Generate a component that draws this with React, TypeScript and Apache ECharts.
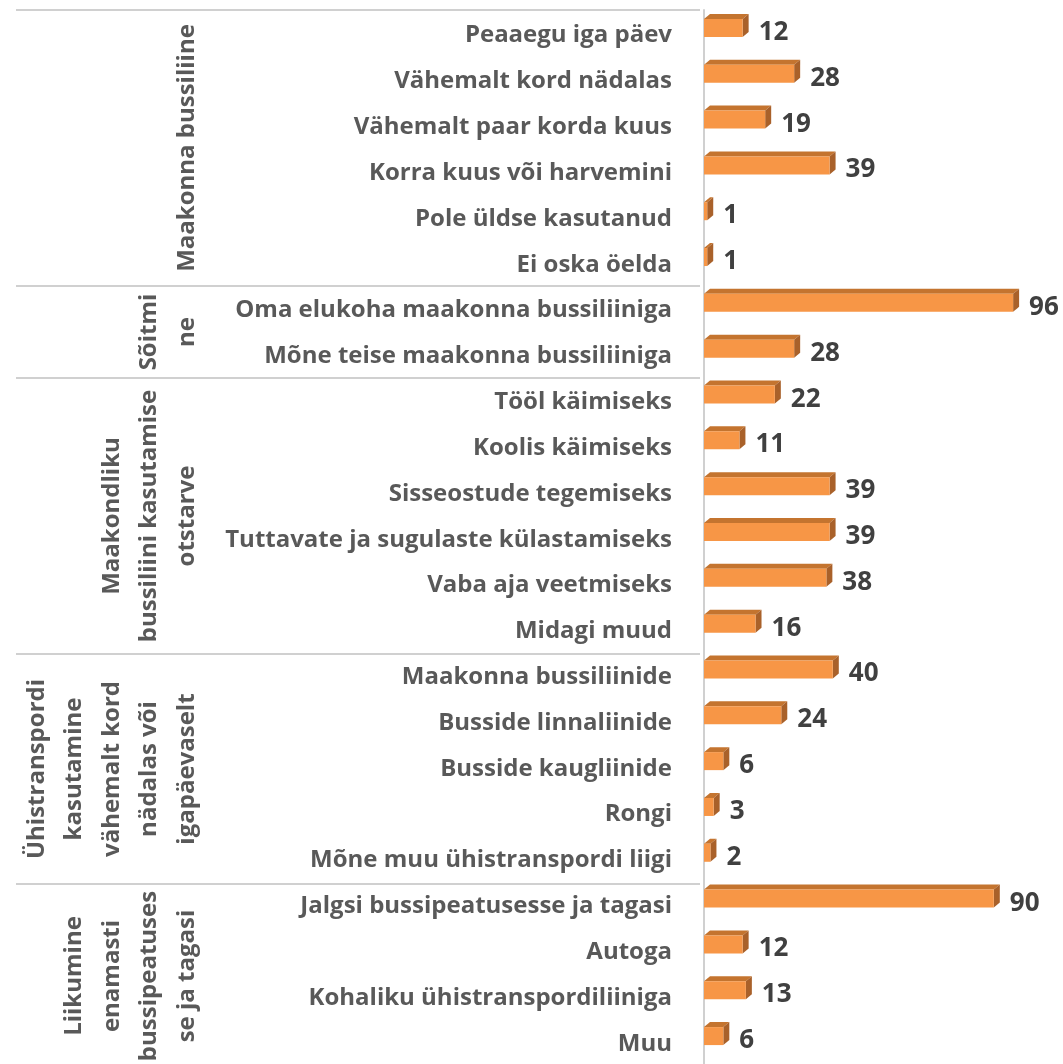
import React, { useEffect, useRef } from "react";
import * as echarts from "echarts";

const categories = [
  "Peaaegu iga päev",
  "Vähemalt kord nädalas",
  "Vähemalt paar korda kuus",
  "Korra kuus või harvemini",
  "Pole üldse kasutanud",
  "Ei oska öelda",
  "Oma elukoha maakonna bussiliiniga",
  "Mõne teise maakonna bussiliiniga",
  "Tööl käimiseks",
  "Koolis käimiseks",
  "Sisseostude tegemiseks",
  "Tuttavate ja sugulaste külastamiseks",
  "Vaba aja veetmiseks",
  "Midagi muud",
  "Maakonna bussiliinide",
  "Busside linnaliinide",
  "Busside kaugliinide",
  "Rongi",
  "Mõne muu ühistranspordi liigi",
  "Jalgsi bussipeatusesse ja tagasi",
  "Autoga",
  "Kohaliku ühistranspordiliiniga",
  "Muu",
];

const values = [12, 28, 19, 39, 1, 1, 96, 28, 22, 11, 39, 39, 38, 16, 40, 24, 6, 3, 2, 90, 12, 13, 6];

const groupLabels = [
  ["Maakonna bussiliine"],
  ["Sõitmi", "ne"],
  ["Maakondliku", "bussiliini kasutamise", "otstarve"],
  ["Ühistranspordi", "kasutamine", "vähemalt kord", "nädalas või", "igapäevaselt"],
  ["Liikumine", "enamasti", "bussipeatuses", "se ja tagasi"],
];
const groupSizes = [6, 2, 6, 5, 4];

const FONT = "'Open Sans', 'Noto Sans', sans-serif";

export default function App() {
  const ref = useRef<HTMLDivElement>(null);
  useEffect(() => {
    if (!ref.current) return;
    const chart = echarts.init(ref.current, null, { renderer: "svg" });

    const gridTop = 10;
    const gridHeight = 1058;
    const gridLeft = 704;
    const axisX = 700;
    const row = gridHeight / categories.length;

    const graphics: any[] = [];
    let start = 0;
    const bounds: number[] = [0];
    groupSizes.forEach((n) => {
      start += n;
      bounds.push(start);
    });
    bounds.slice(0, -1).forEach((b) => {
      const y = Math.round(gridTop + b * row);
      graphics.push({
        type: "line",
        shape: { x1: 16, y1: y, x2: axisX, y2: y },
        style: { stroke: "#d0d0d0", lineWidth: 2 },
        silent: true,
      });
    });
    groupLabels.forEach((lines, gi) => {
      const s = bounds[gi];
      const e = bounds[gi + 1];
      const cy = gridTop + ((s + e) / 2) * row;
      graphics.push({
        type: "text",
        x: 203,
        y: cy,
        rotation: Math.PI / 2,
        style: {
          text: lines.join("\n"),
          align: "center",
          verticalAlign: "bottom",
          lineHeight: 37.5,
          fill: "#595959",
          fontSize: 24,
          fontWeight: "bold",
          fontFamily: FONT,
        },
        silent: true,
      });
    });

    const dx = 6;
    const dy = 5;

    chart.setOption({
      animation: false,
      grid: { left: gridLeft, top: gridTop, width: 322, height: gridHeight },
      xAxis: { type: "value", min: 0, max: 100, show: false },
      yAxis: {
        type: "category",
        data: categories,
        inverse: true,
        offset: gridLeft - axisX,
        axisLine: { show: true, lineStyle: { color: "#d0d0d0", width: 2 } },
        axisTick: { show: false },
        axisLabel: {
          margin: 28,
          fontSize: 24,
          fontWeight: "bold",
          color: "#595959",
          fontFamily: FONT,
        },
      },
      graphic: graphics,
      series: [
        {
          type: "custom",
          clip: false,
          data: values.map((v, i) => [v, i]),
          encode: { x: 0, y: 1 },
          renderItem: (params: any, api: any) => {
            const v = api.value(0);
            const idx = api.value(1);
            const p1 = api.coord([v, idx]);
            const p0 = api.coord([0, idx]);
            const x0 = p0[0];
            const x1 = p1[0];
            const c = p1[1];
            const top = c - 14;
            const bot = c + 4;
            return {
              type: "group",
              children: [
                {
                  type: "polygon",
                  shape: { points: [[x0, top], [x0 + dx, top - dy], [x1 + dx, top - dy], [x1, top]] },
                  style: { fill: "#c4742f" },
                },
                {
                  type: "polygon",
                  shape: { points: [[x1, top], [x1 + dx, top - dy], [x1 + dx, bot - dy], [x1, bot]] },
                  style: { fill: "#a9612a" },
                },
                {
                  type: "rect",
                  shape: { x: x0, y: top, width: x1 - x0, height: bot - top },
                  style: { fill: "#f79646" },
                },
                {
                  type: "text",
                  style: {
                    text: String(v),
                    x: x1 + dx + 10,
                    y: c - 3,
                    align: "left",
                    verticalAlign: "middle",
                    fill: "#404040",
                    fontSize: 26,
                    fontWeight: "bold",
                    fontFamily: FONT,
                  },
                },
              ],
            };
          },
        },
      ],
    });
    return () => chart.dispose();
  }, []);
  return (
    <div
      ref={ref}
      style={{ position: "fixed", left: 0, top: 0, width: 1063, height: 1064 }}
    />
  );
}
